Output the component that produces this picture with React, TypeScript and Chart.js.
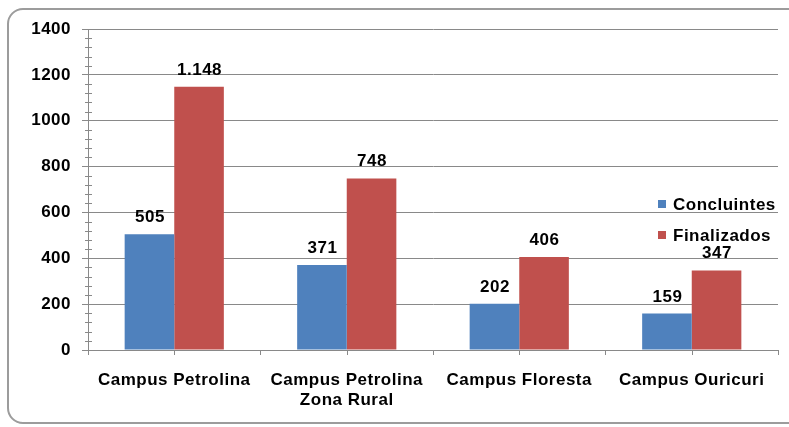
import React, { useEffect, useRef } from "react";
import { Chart, registerables } from "chart.js";

Chart.register(...registerables);

const categories: (string | string[])[] = [
  "Campus Petrolina",
  ["Campus Petrolina", "Zona Rural"],
  "Campus Floresta",
  "Campus Ouricuri",
];
const concluintes = [505, 371, 202, 159];
const finalizados = [1148, 748, 406, 347];
const yTicksMax = 1400;
const yStep = 200;
const yMinorStep = 40;

const BLUE = "#4F81BD";
const RED = "#C0504D";
const GRID = "#898989";
const FONT = "'Liberation Sans', Arial, sans-serif";

const fmt = (v: number) => String(v).replace(/\B(?=(\d{3})+(?!\d))/g, ".");

const decorPlugin = {
  id: "decor",
  beforeDraw(chart: any) {
    const ctx = chart.ctx;
    ctx.save();
    ctx.fillStyle = "#ffffff";
    ctx.fillRect(0, 0, chart.width, chart.height);
    ctx.strokeStyle = "#9c9c9c";
    ctx.lineWidth = 2;
    ctx.beginPath();
    ctx.roundRect(8, 9, 800, 414, 15);
    ctx.stroke();
    ctx.restore();
    (ctx as any).letterSpacing = "0.5px";
  },
  afterDraw(chart: any) {
    const ctx = chart.ctx;
    const y = chart.scales.y;
    const x = chart.scales.x;
    const area = chart.chartArea;
    ctx.save();
    ctx.strokeStyle = GRID;
    ctx.lineWidth = 1;
    ctx.beginPath();
    for (let v = 0; v <= yTicksMax; v += yMinorStep) {
      if (v % yStep === 0) continue;
      const py = Math.round(y.getPixelForValue(v)) + 0.5;
      ctx.moveTo(area.left - 3, py);
      ctx.lineTo(area.left + 4, py);
    }
    for (let i = 0; i < categories.length; i++) {
      const px = Math.round(x.getPixelForValue(i)) + 0.5;
      ctx.moveTo(px, area.bottom);
      ctx.lineTo(px, area.bottom + 5);
    }
    ctx.stroke();

    // data labels
    ctx.fillStyle = "#000";
    ctx.font = `bold 17px ${FONT}`;
    ctx.textAlign = "center";
    ctx.textBaseline = "alphabetic";
    chart.data.datasets.forEach((ds: any, di: number) => {
      const meta = chart.getDatasetMeta(di);
      meta.data.forEach((bar: any, i: number) => {
        ctx.fillText(fmt(ds.data[i]), bar.x + 0.5, bar.y - 12);
      });
    });

    // legend
    ctx.textAlign = "left";
    ctx.textBaseline = "middle";
    chart.data.datasets.forEach((ds: any, di: number) => {
      const cy = 204 + di * 31;
      ctx.fillStyle = ds.backgroundColor;
      ctx.fillRect(658, cy - 4, 8, 8);
      ctx.fillStyle = "#000";
      ctx.fillText(ds.label, 673, cy + 1);
    });
    ctx.restore();
  },
};

export default function App() {
  const ref = useRef<HTMLCanvasElement>(null);
  useEffect(() => {
    if (!ref.current) return;
    const chart = new Chart(ref.current, {
      type: "bar",
      data: {
        labels: categories,
        datasets: [
          { label: "Concluintes", data: concluintes, backgroundColor: BLUE, barPercentage: 1, categoryPercentage: 0.575 },
          { label: "Finalizados", data: finalizados, backgroundColor: RED, barPercentage: 1, categoryPercentage: 0.575 },
        ],
      },
      options: {
        animation: false,
        responsive: false,
        maintainAspectRatio: false,
        layout: { padding: { top: 29, right: 11, left: 0, bottom: 0 } },
        plugins: { legend: { display: false }, tooltip: { enabled: false } },
        scales: {
          x: {
            offset: true,
            grid: { offset: true, drawOnChartArea: false, color: GRID, tickLength: 5 },
            border: { color: GRID },
            ticks: {
              color: "#000",
              font: { family: FONT, size: 17, weight: "bold", lineHeight: 1.18 },
              padding: 15,
              maxRotation: 0,
              autoSkip: false,
            },
            afterFit(scale: any) {
              scale.height = 77;
            },
          },
          y: {
            min: 0,
            max: yTicksMax,
            ticks: {
              stepSize: yStep,
              color: "#000",
              font: { family: FONT, size: 17, weight: "bold" },
              padding: 11,
              callback: (v: any) => String(v),
            },
            grid: { color: GRID, tickLength: 6 },
            border: { color: GRID },
            afterFit(scale: any) {
              scale.width = 88;
            },
          },
        },
      },
      plugins: [decorPlugin],
    });
    return () => chart.destroy();
  }, []);
  return (
    <div style={{ position: "absolute", left: 0, top: 0, width: 789, height: 427 }}>
      <canvas ref={ref} width={789} height={427} style={{ width: 789, height: 427, display: "block" }} />
    </div>
  );
}
